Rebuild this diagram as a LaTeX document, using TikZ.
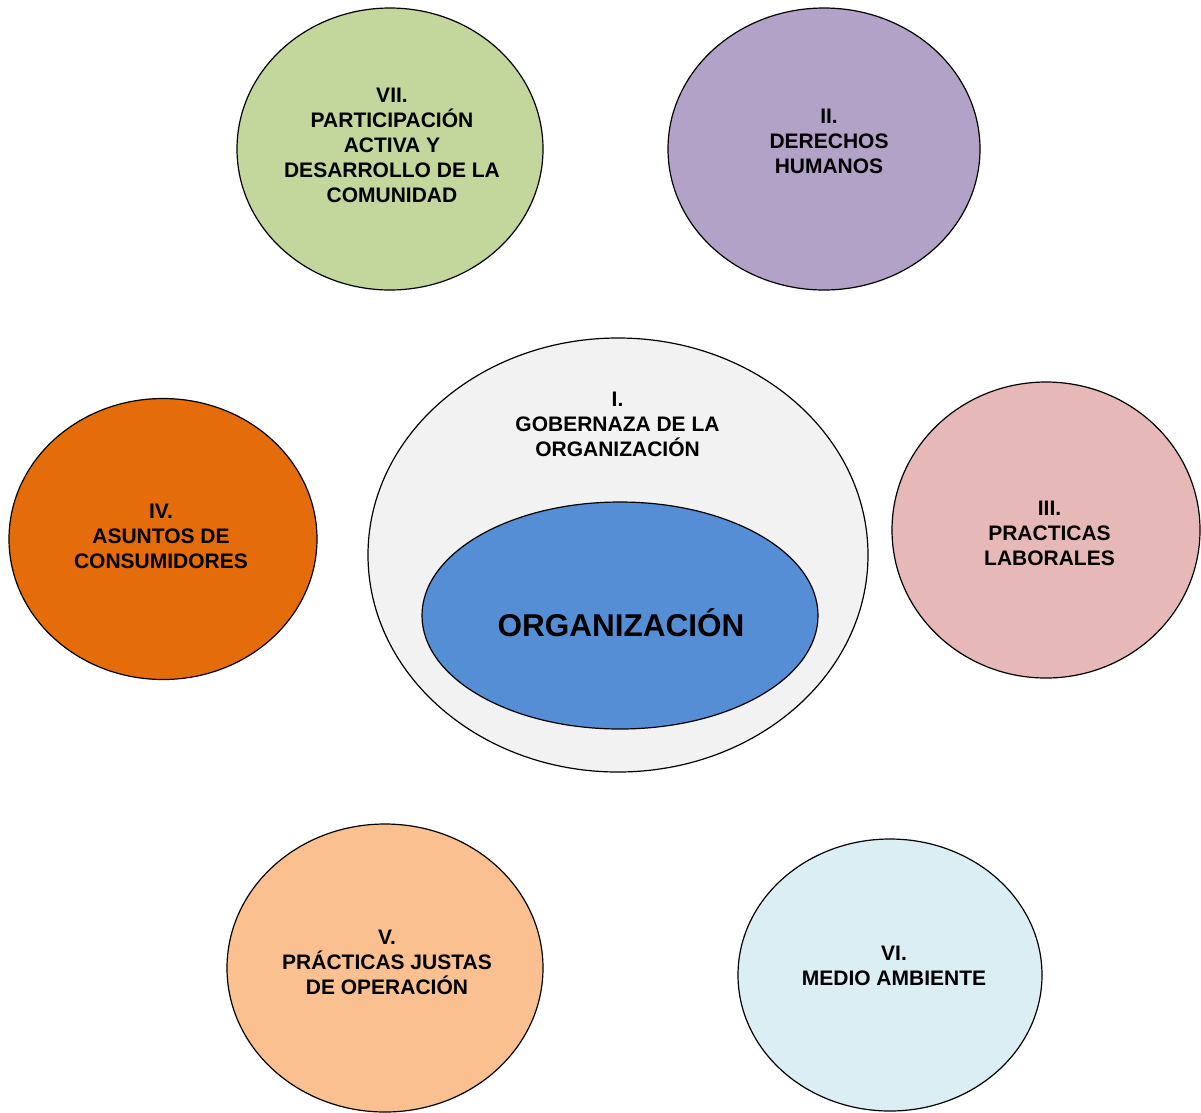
\documentclass[tikz,border=0pt]{standalone}
\usepackage{fontspec}
\setmainfont{Liberation Sans}
\usetikzlibrary{shapes.geometric}
\definecolor{cgreen}{HTML}{C3D69B}
\definecolor{cpurple}{HTML}{B3A2C7}
\definecolor{cpink}{HTML}{E6B9B8}
\definecolor{corange}{HTML}{E46C0A}
\definecolor{cpeach}{HTML}{FAC090}
\definecolor{clblue}{HTML}{DBEEF4}
\definecolor{cgray}{HTML}{F2F2F2}
\definecolor{cblue}{HTML}{558ED5}
\tikzset{
  oval/.style={ellipse, draw=black, line width=1.2pt, inner sep=0pt},
  lbl/.style={align=center, anchor=base, inner sep=0pt,
    font=\fontsize{21pt}{25pt}\selectfont\bfseries},
  biglbl/.style={anchor=base, inner sep=0pt,
    font=\fontsize{31.5pt}{36pt}\selectfont\bfseries}
}
\begin{document}
\begin{tikzpicture}[x=1pt,y=-1pt]
\useasboundingbox[fill=white] (0,0) rectangle (1201,1112);
% ellipses
\node[oval, fill=cgreen, minimum width=306pt, minimum height=282pt] (e7) at (390,149) {};
\node[oval, fill=cpurple, minimum width=312pt, minimum height=282pt] (e2) at (824,149) {};
\node[oval, fill=cgray, minimum width=500pt, minimum height=434pt] (e1) at (618,555) {};
\node[oval, fill=cblue, minimum width=396pt, minimum height=227pt] (e0) at (620,615.5) {};
\node[oval, fill=corange, minimum width=308pt, minimum height=281pt] (e4) at (163,539) {};
\node[oval, fill=cpink, minimum width=308pt, minimum height=296pt] (e3) at (1046,530) {};
\node[oval, fill=cpeach, minimum width=316pt, minimum height=288pt] (e5) at (385,968) {};
\node[oval, fill=clblue, minimum width=304pt, minimum height=272pt] (e6) at (890,975) {};
% labels (anchor base = baseline of last line)
\node[lbl] (t7) at (392,202) {VII.\\PARTICIPACIÓN\\ACTIVA Y\\DESARROLLO DE LA\\COMUNIDAD};
\node[lbl] (t2) at (829,173) {II.\\DERECHOS\\HUMANOS};
\node[lbl] (t1) at (617.5,456) {I.\\GOBERNAZA DE LA\\ORGANIZACIÓN};
\node[biglbl] (t0) at (621,636) {ORGANIZACIÓN};
\node[lbl] (t4) at (161,568.5) {IV.\\ASUNTOS DE\\CONSUMIDORES};
\node[lbl] (t3) at (1049.5,565) {III.\\PRACTICAS\\LABORALES};
\node[lbl] (t5) at (387,994) {V.\\PRÁCTICAS JUSTAS\\DE OPERACIÓN};
\node[lbl] (t6) at (894,985) {VI.\\MEDIO AMBIENTE};
\end{tikzpicture}
\end{document}
